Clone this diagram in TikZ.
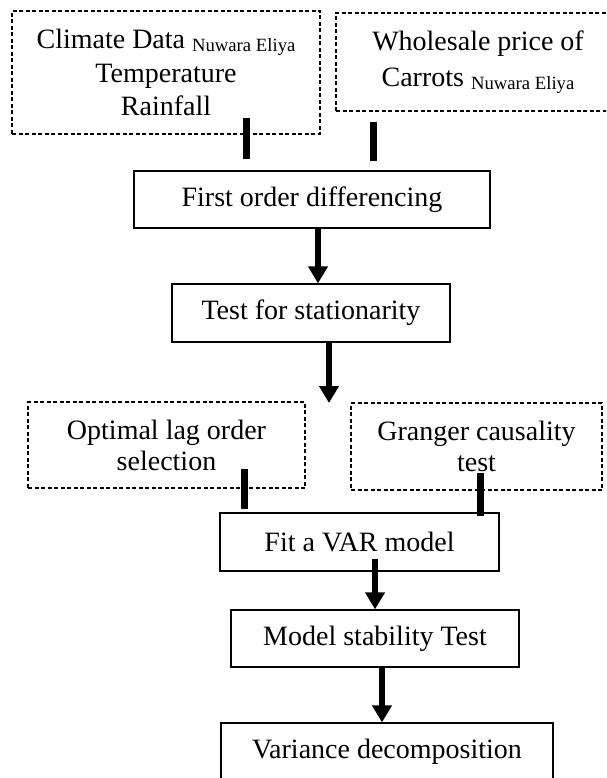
\documentclass[tikz,border=0pt]{standalone}
\usepackage{fontspec}
\setmainfont{Liberation Serif}
\usetikzlibrary{arrows.meta}
\newcommand{\nwsub}[1]{\raisebox{-3pt}{\fontsize{18.7}{18.7}\selectfont #1}}
\begin{document}
\begin{tikzpicture}[x=1pt,y=-1pt,
  box/.style={draw, line width=1.3pt, rectangle, inner sep=0pt, align=center,
              font=\fontsize{28}{32}\selectfont},
  dbox/.style={box, line width=1.1pt, dash pattern=on 4pt off 2.5pt},
  bar/.style={line width=7pt},
  arr/.style={line width=6.5pt, -{Triangle[width=19pt,length=17pt]}}
]
\useasboundingbox (0,0) rectangle (606,778);
\begin{scope}
\clip (0,0) rectangle (606,778);
% input boxes
\node[dbox, minimum width=308pt, minimum height=123pt, font=\fontsize{28}{33.5}\selectfont] (clim) at (166,72.5)
  {Climate Data \nwsub{Nuwara Eliya}\\Temperature\\Rainfall};
\node[dbox, minimum width=284pt, minimum height=98pt, font=\fontsize{28}{36}\selectfont] (whole) at (478,62)
  {Wholesale price of\\Carrots \nwsub{Nuwara Eliya}};
% main flow
\node[box, minimum width=356pt, minimum height=57pt] (fo) at (312,199.5) {First order differencing};
\node[box, minimum width=278pt, minimum height=58pt] (test) at (311,313) {Test for stationarity};
\coordinate (tend) at (329,403);
\node[dbox, minimum width=277pt, minimum height=86pt, font=\fontsize{28}{31}\selectfont] (opt) at (166.5,445)
  {Optimal lag order\\selection};
\node[dbox, minimum width=251pt, minimum height=87pt, font=\fontsize{28}{31}\selectfont] (gr) at (476.5,446.5)
  {Granger causality\\test};
\node[box, minimum width=279pt, minimum height=58pt] (fit) at (359.5,542) {Fit a VAR model};
\node[box, minimum width=288pt, minimum height=57pt] (model) at (375,638.5) {Model stability Test};
\node[box, minimum width=332pt, minimum height=58pt] (var) at (387,752) {Variance decomposition};
% connectors
\draw[bar] ([xshift=80pt,yshift=17pt]clim.south) -- ([xshift=-66pt,yshift=11pt]fo.north);
\draw[bar] ([xshift=-105pt,yshift=-10pt]whole.south) -- ([xshift=61pt,yshift=9pt]fo.north);
\draw[arr] ([xshift=6pt]fo.south) -- ([xshift=7pt]test.north);
\draw[arr] ([xshift=18pt]test.south) -- (tend);
\draw[bar] ([xshift=77.5pt,yshift=20pt]opt.south) -- ([xshift=-115.5pt,yshift=3pt]fit.north);
\draw[bar] ([xshift=3.5pt,yshift=18pt]gr.south) -- ([xshift=120.5pt,yshift=-4pt]fit.north);
\draw[arr] ([xshift=15.5pt,yshift=13pt]fit.south) -- (model.north);
\draw[arr] ([xshift=7pt]model.south) -- ([xshift=-5pt]var.north);
\end{scope}
\end{tikzpicture}
\end{document}
